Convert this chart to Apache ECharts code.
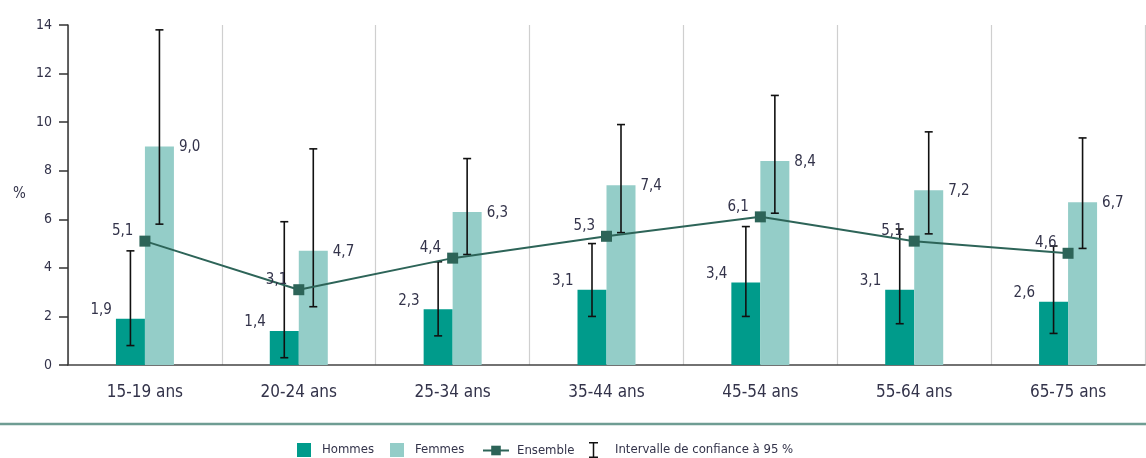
<!DOCTYPE html>
<html>
<head>
<meta charset="utf-8">
<script src="https://cdn.jsdelivr.net/npm/echarts@6/dist/echarts.min.js"></script>
<style>
html,body{margin:0;padding:0;background:#fff;}
#chart{width:1146px;height:458px;}
</style>
</head>
<body>
<div id="chart"></div>
<script>
var categories = ['15-19 ans','20-24 ans','25-34 ans','35-44 ans','45-54 ans','55-64 ans','65-75 ans'];
var hommes = [1.9, 1.4, 2.3, 3.1, 3.4, 3.1, 2.6];
var femmes = [9.0, 4.7, 6.3, 7.4, 8.4, 7.2, 6.7];
var ensemble = [5.1, 3.1, 4.4, 5.3, 6.1, 5.1, 4.6];
var hommesLow = [0.8, 0.3, 1.2, 2.0, 2.0, 1.7, 1.3];
var hommesHigh = [4.7, 5.9, 4.25, 5.0, 5.7, 5.6, 4.9];
var femmesLow = [5.8, 2.4, 4.55, 5.45, 6.25, 5.4, 4.8];
var femmesHigh = [13.8, 8.9, 8.5, 9.9, 11.1, 9.6, 9.35];
var yTicks = [0, 2, 4, 6, 8, 10, 12, 14];

var FONT = '"DejaVu Sans Condensed", "Liberation Sans Narrow", sans-serif';
var TXT = '#33334a';
var BAR_W = 29;

function fmt(v){ return v.toFixed(1).replace('.', ','); }

var ciData = [];
for (var i = 0; i < categories.length; i++) {
  ciData.push([i, hommesLow[i], hommesHigh[i], -1]);
  ciData.push([i, femmesLow[i], femmesHigh[i], 1]);
}

var chart = echarts.init(document.getElementById('chart'), null, {renderer: 'canvas'});
var option = {
  animation: false,
  backgroundColor: '#fff',
  grid: {left: 68, right: 1, top: 25, bottom: 93},
  xAxis: {
    type: 'category',
    data: categories,
    boundaryGap: true,
    axisLine: {show: true, lineStyle: {color: '#444', width: 1.5}},
    axisTick: {show: false},
    splitLine: {show: true, lineStyle: {color: '#cfcfcf', width: 1.2}},
    axisLabel: {color: TXT, fontFamily: FONT, fontSize: 17, margin: 19}
  },
  yAxis: {
    type: 'value',
    min: yTicks[0],
    max: yTicks[yTicks.length - 1],
    interval: 2,
    axisLine: {show: true, lineStyle: {color: '#333', width: 1.5}},
    axisTick: {show: true, length: 9, lineStyle: {color: '#333', width: 1.5}},
    splitLine: {show: false},
    axisLabel: {color: TXT, fontFamily: FONT, fontSize: 14, margin: 16}
  },
  legend: [
    {left: 297, top: 443, itemWidth: 14, itemHeight: 14, data: [{name: 'Hommes', icon: 'rect'}],
     textStyle: {color: TXT, fontFamily: FONT, fontSize: 13, padding: [0,0,0,6]}, padding: 0},
    {left: 390, top: 443, itemWidth: 14, itemHeight: 14, data: [{name: 'Femmes', icon: 'rect'}],
     textStyle: {color: TXT, fontFamily: FONT, fontSize: 13, padding: [0,0,0,6]}, padding: 0},
    {left: 482, top: 444, itemWidth: 26, itemHeight: 12, data: [{name: 'Ensemble'}],
     textStyle: {color: TXT, fontFamily: FONT, fontSize: 13, padding: [0,0,0,3]}, padding: 0},
    {left: 589, top: 442, itemWidth: 9, itemHeight: 16,
     data: [{name: 'Intervalle de confiance à 95 %', icon: 'path://M0,0h9v1.5h-3.75v13h3.75v1.5h-9v-1.5h3.75v-13h-3.75z'}],
     textStyle: {color: TXT, fontFamily: FONT, fontSize: 13, padding: [0,0,0,12]}, padding: 0}
  ],
  graphic: [
    {type: 'line', shape: {x1: 0, y1: 424, x2: 1146, y2: 424}, style: {stroke: '#6f9d93', lineWidth: 2.5}},
    {type: 'text', left: 13, top: 187, style: {text: '%', fill: TXT, font: '15px ' + FONT}}
  ],
  series: [
    {
      name: 'Hommes', type: 'bar', data: hommes, barWidth: BAR_W, barGap: '0%',
      itemStyle: {color: '#009b8b'},
      label: {show: true, position: [-4, -1], align: 'right', verticalAlign: 'bottom',
        color: TXT, fontFamily: FONT, fontSize: 15, formatter: function(p){ return fmt(p.value); }},
      z: 2
    },
    {
      name: 'Femmes', type: 'bar', data: femmes, barWidth: BAR_W, barGap: '0%',
      itemStyle: {color: '#94cdc8'},
      label: {show: true, position: [BAR_W + 5, 1], align: 'left', verticalAlign: 'middle',
        color: TXT, fontFamily: FONT, fontSize: 15, formatter: function(p){ return fmt(p.value); }},
      z: 2
    },
    {
      name: 'Intervalle de confiance à 95 %', type: 'custom', data: ciData,
      itemStyle: {color: '#111'},
      encode: {x: 0, y: [1, 2]},
      z: 3,
      renderItem: function(params, api) {
        var idx = api.value(0);
        var side = api.value(3);
        var lo = api.coord([idx, api.value(1)]);
        var hi = api.coord([idx, api.value(2)]);
        var x = lo[0] + side * BAR_W / 2;
        var cap = 4;
        var st = {stroke: '#111', lineWidth: 1.6};
        return {
          type: 'group',
          children: [
            {type: 'line', shape: {x1: x, y1: lo[1], x2: x, y2: hi[1]}, style: st},
            {type: 'line', shape: {x1: x - cap, y1: lo[1], x2: x + cap, y2: lo[1]}, style: st},
            {type: 'line', shape: {x1: x - cap, y1: hi[1], x2: x + cap, y2: hi[1]}, style: st}
          ]
        };
      }
    },
    {
      name: 'Ensemble', type: 'line', data: ensemble,
      symbol: 'rect', symbolSize: 11,
      lineStyle: {color: '#2d6458', width: 2},
      itemStyle: {color: '#2d6458'},
      label: {show: true, position: 'left', distance: 6, offset: [0, -10],
        color: TXT, fontFamily: FONT, fontSize: 15, formatter: function(p){ return fmt(p.value); }},
      z: 5
    }
  ]
};
chart.setOption(option);
</script>
</body>
</html>
